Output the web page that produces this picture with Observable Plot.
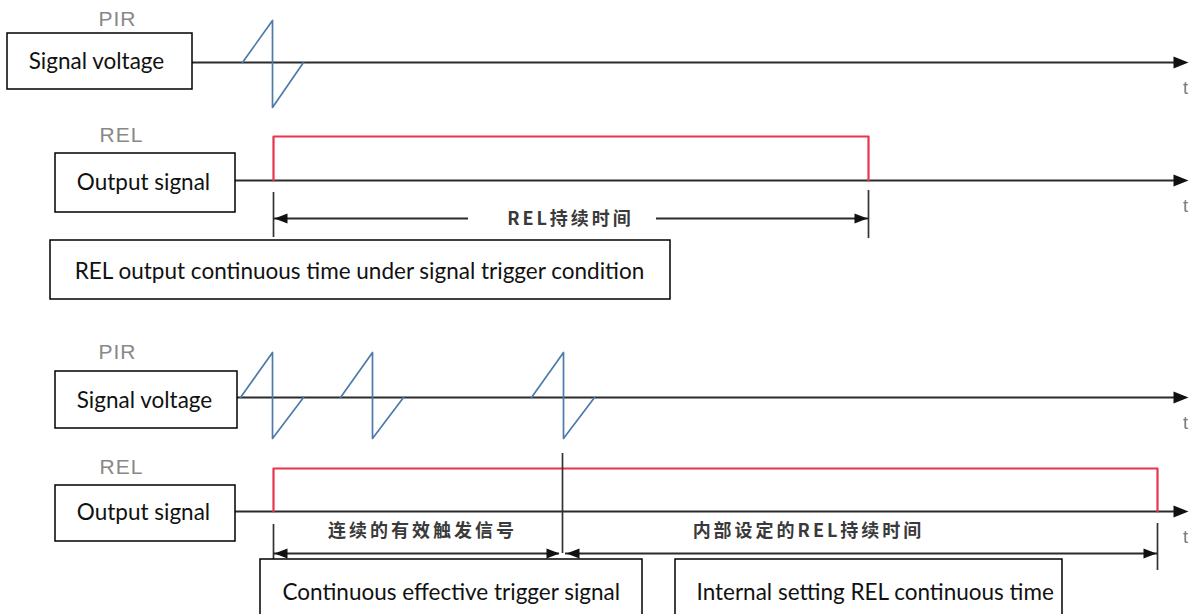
<!DOCTYPE html>
<html><head><meta charset="utf-8">
<script src="https://cdn.jsdelivr.net/npm/d3@7"></script>
<script src="https://cdn.jsdelivr.net/npm/@observablehq/plot@0.6"></script>
<style>
html,body{margin:0;padding:0;background:#fff;overflow:hidden;}
</style></head><body><div id="chart"></div>
<script>
// ---- data (diagram time units) ----
const laneNames = ["PIR", "REL", "PIR", "REL"];
const boxLabels = ["Signal voltage", "Output signal", "REL output continuous time under signal trigger condition",
                   "Signal voltage", "Output signal", "Continuous effective trigger signal", "Internal setting REL continuous time"];
const dimLabels = ["REL持续时间", "连续的有效触发信号", "内部设定的REL持续时间"];
const axisLabel = "t";
const pirPulses1 = [242];             // PIR pulse start times, case 1
const pirPulses2 = [240, 340, 531];   // PIR pulse start times, case 2
const rel1 = [273, 868];              // REL on, off (case 1)
const rel2 = [273, 1157];             // REL on, off (case 2)
const retrigger2 = 562;               // last valid trigger (case 2)
const tStart = [192, 235, 237, 235];  // where each lane's time axis starts
const tEnd = 1188;

// ---- layout ----
const W = 1189, H = 614;
const lanes = [
  {base: 62, up: 42, down: 45, label: 19},
  {base: 180, high: 136, label: 135},
  {base: 397, up: 45, down: 41, label: 352},
  {base: 511, high: 468, label: 467}
];
const boxes = [
  {x1: 7, x2: 192, y1: 33, y2: 89, tx: 96, anchor: "middle"},
  {x1: 55, x2: 235, y1: 153, y2: 212, tx: 143, anchor: "middle"},
  {x1: 50, x2: 670, y1: 240, y2: 299, tx: 359, anchor: "middle"},
  {x1: 55, x2: 237, y1: 371, y2: 428, tx: 144, anchor: "middle"},
  {x1: 55, x2: 235, y1: 485, y2: 541, tx: 143, anchor: "middle"},
  {x1: 260, x2: 642, y1: 559, y2: 630, tx: 282, anchor: "start"},
  {x1: 675, x2: 1062, y1: 559, y2: 630, tx: 696, anchor: "start"}
];
const boxTextY = [61, 182, 271, 400, 512, 592, 592];

function pulses(starts, lane, rise, fall) {
  const pts = [];
  starts.forEach((s, i) => {
    pts.push({x: s, y: lane.base, z: i});
    pts.push({x: s + rise, y: lane.base - lane.up, z: i});
    pts.push({x: s + rise, y: lane.base + lane.down, z: i});
    pts.push({x: s + rise + fall, y: lane.base, z: i});
  });
  return pts;
}
const pulseData = [...pulses(pirPulses1, lanes[0], 30, 31).map(d => ({...d, z: "a" + d.z})),
                   ...pulses(pirPulses2, lanes[2], 32, 31).map(d => ({...d, z: "b" + d.z}))];

function relShape(onoff, lane, id) {
  return [
    {x: onoff[0], y: lane.base, z: id},
    {x: onoff[0], y: lane.high, z: id},
    {x: onoff[1], y: lane.high, z: id},
    {x: onoff[1], y: lane.base, z: id}
  ];
}
const relData = [...relShape(rel1, lanes[1], "r1"), ...relShape(rel2, lanes[3], "r2")];

const baselines = lanes.map((l, i) => ({x1: tStart[i], x2: tEnd - 8, y: l.base}));
const baseHeads = lanes.map(l => ({x: tEnd, y: l.base, rot: 0}));

// dimension lines
const dimY1 = 218, dimY2 = 553;
const dimSegs = [
  {x1: rel1[0], x2: 468, y: dimY1},
  {x1: 656, x2: rel1[1], y: dimY1},
  {x1: rel2[0], x2: retrigger2 - 3, y: dimY2},
  {x1: retrigger2 + 3, x2: rel2[1], y: dimY2}
];
const dimHeads = [
  {x: rel1[0] + 1, y: dimY1, rot: 180},
  {x: rel1[1] - 1, y: dimY1, rot: 0},
  {x: rel2[0] + 1, y: dimY2, rot: 180},
  {x: retrigger2 - 3, y: dimY2, rot: 0},
  {x: retrigger2 + 4, y: dimY2, rot: 180},
  {x: rel2[1] - 1, y: dimY2, rot: 0}
];
const dimTicks = [
  {x: rel1[0], y1: 192, y2: 237},
  {x: rel1[1], y1: 190, y2: 238},
  {x: rel2[0], y1: 524, y2: 580},
  {x: rel2[1], y1: 523, y2: 570},
  {x: retrigger2, y1: 453, y2: dimY2}
];
const dimText = [
  {x: 570, y: 219, t: dimLabels[0]},
  {x: 422, y: 531, t: dimLabels[1]},
  {x: 808, y: 531, t: dimLabels[2]}
];

const headBig = {draw(ctx) { ctx.moveTo(0, 0); ctx.lineTo(-15, -6); ctx.lineTo(-15, 6); ctx.closePath(); }};
const headSmall = {draw(ctx) { ctx.moveTo(0, 0); ctx.lineTo(-13, -5); ctx.lineTo(-13, 5); ctx.closePath(); }};

const boxData = boxes.map((b, i) => ({...b, label: boxLabels[i], ty: boxTextY[i]}));
const boxFont = {fill: "#111", fontSize: 22.5, fontFamily: "Lato, Carlito, Calibri, sans-serif"};

const chart = Plot.plot({
  width: W, height: H,
  margin: 0,
  x: {domain: [0, W], range: [0, W], axis: null},
  y: {domain: [0, H], range: [0, H], axis: null},
  style: {background: "#fff", overflow: "visible"},
  marks: [
    // baselines (time axes)
    Plot.ruleY(baselines, {x1: "x1", x2: "x2", y: "y", stroke: "#2b2b2b", strokeWidth: 2}),
    Plot.dot(baseHeads, {x: "x", y: "y", rotate: "rot", symbol: headBig, fill: "#111", stroke: "none"}),
    Plot.text(lanes.map(l => ({y: l.base + 26})), {x: tEnd - 3, y: "y", text: () => axisLabel, fill: "#7a7a7a", fontSize: 18, fontFamily: "Liberation Sans, Arial, sans-serif"}),
    // PIR pulses
    Plot.line(pulseData, {x: "x", y: "y", z: "z", stroke: "#4d7aa8", strokeWidth: 1.7, curve: "linear"}),
    // REL output
    Plot.line(relData, {x: "x", y: "y", z: "z", stroke: "#e8354f", strokeWidth: 2.2}),
    // dimension ticks and lines
    Plot.ruleX(dimTicks, {x: "x", y1: "y1", y2: "y2", stroke: "#333", strokeWidth: 1.7}),
    Plot.ruleY(dimSegs, {x1: "x1", x2: "x2", y: "y", stroke: "#2b2b2b", strokeWidth: 2.2}),
    Plot.dot(dimHeads, {x: "x", y: "y", rotate: "rot", symbol: headSmall, fill: "#111", stroke: "none"}),
    Plot.text(dimText, {x: "x", y: "y", text: "t", fill: "#3a3a3a", fontSize: 18, fontWeight: "bold",
      fontFamily: "Noto Sans CJK SC, sans-serif"}),
    // lane names
    Plot.text(lanes, {x: (d, i) => (i % 2 ? 121 : 117), y: "label", text: (d, i) => laneNames[i], fill: "#888",
      fontSize: 21, fontFamily: "Liberation Sans, Arial, sans-serif"}),
    // annotation boxes
    Plot.rect(boxData, {x1: "x1", x2: "x2", y1: "y1", y2: "y2", fill: "#fff", stroke: "#000", strokeWidth: 1.5}),
    Plot.text(boxData.filter(d => d.anchor === "middle"), {x: "tx", y: "ty", text: "label", textAnchor: "middle", ...boxFont}),
    Plot.text(boxData.filter(d => d.anchor === "start"), {x: "tx", y: "ty", text: "label", textAnchor: "start", ...boxFont})
  ]
});
document.getElementById("chart").appendChild(chart);
// widen spacing of the lane names and Chinese dimension labels like the reference
d3.select(chart).selectAll("text").each(function() {
  const s = this.textContent;
  if (dimLabels.includes(s)) this.style.letterSpacing = "3px";
  else if (laneNames.includes(s)) this.style.letterSpacing = "1px";
});
</script></body></html>
